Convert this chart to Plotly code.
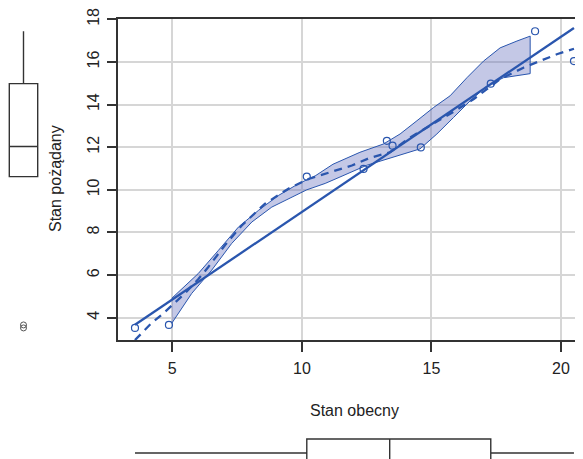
import numpy as np
import plotly.graph_objects as go

# ---- data ----
stan_obecny = [3.56, 4.87, 10.19, 12.38, 13.28, 13.50, 14.59, 17.29, 19.00, 20.50]
stan_pozadany = [3.52, 3.66, 10.62, 10.98, 12.30, 12.07, 11.99, 14.98, 17.44, 16.04]

# loess smooth (dashed)
smooth_x = [3.56, 4.2, 4.65, 5.1, 5.49, 6.0, 6.39, 7.03, 7.68, 8.58, 9.48, 10.25,
            11.15, 11.93, 12.63, 13.4, 14.18, 14.95, 15.92, 16.62, 17.65, 18.55,
            19.15, 19.84, 20.5]
smooth_y = [2.95, 3.75, 4.2, 4.7, 5.15, 5.8, 6.38, 7.40, 8.33, 9.35, 10.05, 10.51,
            10.85, 11.14, 11.5, 11.76, 12.46, 13.0, 13.71, 14.25, 15.19, 15.73,
            16.04, 16.36, 16.62]

# spread band edges
band_up_x = [4.98, 6.0, 6.78, 7.55, 8.32, 9.09, 9.86, 10.51, 11.2, 12.24, 13.15,
             13.79, 14.44, 15.08, 15.72, 16.37, 17.01, 17.65, 18.3, 18.81]
band_up_y = [4.91, 6.07, 7.16, 8.25, 9.03, 9.73, 10.28, 10.65, 11.2, 11.76, 12.15,
             12.62, 13.24, 13.86, 14.41, 15.26, 16.04, 16.66, 16.98, 17.21]
band_lo_x = [4.98, 5.75, 6.52, 7.29, 8.07, 8.84, 9.61, 10.19, 10.9, 11.47, 12.5,
             13.53, 14.56, 15.21, 15.85, 16.49, 17.14, 17.78, 18.81]
band_lo_y = [3.74, 5.14, 6.23, 7.48, 8.49, 9.19, 9.65, 10.0, 10.3, 10.6, 11.15,
             11.52, 11.92, 12.62, 13.39, 14.17, 14.87, 15.26, 15.45]

x_ticks = [5, 10, 15, 20]
y_ticks = [4, 6, 8, 10, 12, 14, 16, 18]

# ---- helpers ----
def fivenum(v):
    s = np.sort(np.asarray(v, dtype=float))
    n = len(s)
    n4 = np.floor((n + 3) / 2) / 2
    d = np.array([1, n4, (n + 1) / 2, n + 1 - n4, n]) - 1
    return 0.5 * (s[np.floor(d).astype(int)] + s[np.ceil(d).astype(int)])

def box_stats(v):
    mn, q1, med, q3, mx = fivenum(v)
    iqr = q3 - q1
    arr = np.asarray(v, dtype=float)
    inside = arr[(arr >= q1 - 1.5 * iqr) & (arr <= q3 + 1.5 * iqr)]
    out = arr[(arr < q1 - 1.5 * iqr) | (arr > q3 + 1.5 * iqr)]
    return q1, med, q3, inside.min(), inside.max(), out

BLUE = "#2A56AE"
FONT = "Liberation Sans, Arial, sans-serif"
TXT = "#222222"

slope, intercept = np.polyfit(stan_obecny, stan_pozadany, 1)
reg_x = [min(stan_obecny), max(stan_obecny)]
reg_y = [intercept + slope * v for v in reg_x]

fig = go.Figure()

fig.add_trace(go.Scatter(
    x=band_up_x + band_lo_x[::-1], y=band_up_y + band_lo_y[::-1],
    fill="toself", fillcolor="rgba(100,110,190,0.38)",
    line=dict(color=BLUE, width=1), mode="lines", hoverinfo="skip",
    showlegend=False))
fig.add_trace(go.Scatter(x=reg_x, y=reg_y, mode="lines",
                         line=dict(color=BLUE, width=2.3), showlegend=False))
fig.add_trace(go.Scatter(x=smooth_x, y=smooth_y, mode="lines",
                         line=dict(color=BLUE, width=2.3, dash="8px,6px"),
                         showlegend=False))
fig.add_trace(go.Scatter(x=stan_obecny, y=stan_pozadany, mode="markers",
                         marker=dict(symbol="circle-open", size=7, color=BLUE,
                                     line=dict(width=1.2, color=BLUE)),
                         showlegend=False))

q1, med, q3, lo, hi, out = box_stats(stan_pozadany)
fig.add_trace(go.Box(x=[0], q1=[q1], median=[med], q3=[q3], lowerfence=[lo],
                     upperfence=[hi], width=1, whiskerwidth=0,
                     fillcolor="rgba(255,255,255,0)",
                     line=dict(color="#333333", width=1.4),
                     xaxis="x2", yaxis="y2", showlegend=False, boxpoints=False))
fig.add_trace(go.Scatter(x=[0] * len(out), y=list(out), mode="markers",
                         marker=dict(symbol="circle-open", size=6, color="#555555",
                                     line=dict(width=1, color="#555555")),
                         xaxis="x2", yaxis="y2", showlegend=False))

q1, med, q3, lo, hi, out = box_stats(stan_obecny)
fig.add_trace(go.Box(y=[0], q1=[q1], median=[med], q3=[q3], lowerfence=[lo],
                     upperfence=[hi], width=1, whiskerwidth=0, orientation="h",
                     fillcolor="rgba(255,255,255,0)",
                     line=dict(color="#333333", width=1.4),
                     xaxis="x3", yaxis="y3", showlegend=False, boxpoints=False))

W, H = 583, 459
OFF = 8  # page body margin

def fx(px):
    return (px - OFF) / W

def fy(py):
    return (H + OFF - py) / H

x5_px, x20_px = 172.3, 561.0
PX_PER_X = (x20_px - x5_px) / 15
y4_py, y18_py = 317.7, 19.3
PX_PER_Y = (y4_py - y18_py) / 14
left_px, right_px = 118.3, W + OFF
xr = [5 - (x5_px - left_px) / PX_PER_X, 5 + (right_px - x5_px) / PX_PER_X]
top_py, bot_py = y18_py, 340.0
yr = [4 - (bot_py - y4_py) / PX_PER_Y, 18.0001]

xdom = [fx(left_px), 1.0]
ydom = [fy(bot_py), fy(top_py)]

axis_common = dict(showline=True, linecolor="#333333", linewidth=1.5,
                   ticks="outside", ticklen=10, tickwidth=1.5, tickcolor="#333333",
                   showgrid=True, gridcolor="#d6d6d6", gridwidth=1.5,
                   zeroline=False, automargin=False, ticklabeloverflow="allow",
                   tickfont=dict(family=FONT, size=16, color=TXT))

bb_c, bb_h = 453.0, 28.0
y3_top = 413.0
lb_c, lb_w = 23.5, 28.4
x2_right = 55.0

fig.update_layout(
    width=W, height=H, margin=dict(l=0, r=0, t=0, b=0, autoexpand=False),
    paper_bgcolor="white", plot_bgcolor="white",
    xaxis=dict(domain=xdom, range=xr, tickvals=x_ticks, mirror=True,
               anchor="y", ticklabelstandoff=3, **axis_common),
    yaxis=dict(domain=ydom, range=yr, tickvals=y_ticks, tickangle=-90,
               anchor="x", ticklabelstandoff=1, **axis_common),
    xaxis2=dict(domain=[0, fx(x2_right)],
                range=[-(lb_c - OFF) / lb_w, (x2_right - lb_c) / lb_w],
                visible=False, anchor="y2", automargin=False),
    yaxis2=dict(domain=ydom, range=yr, visible=False, anchor="x2",
                automargin=False),
    xaxis3=dict(domain=xdom, range=xr, visible=False, anchor="y3",
                automargin=False),
    yaxis3=dict(domain=[0, fy(y3_top)],
                range=[-(H + OFF - bb_c) / bb_h, (bb_c - y3_top) / bb_h],
                visible=False, anchor="x3", automargin=False),
    annotations=[
        dict(text="Stan obecny", x=fx(354.5), y=fy(410), xref="paper",
             yref="paper", showarrow=False, xanchor="center", yanchor="middle",
             font=dict(family=FONT, size=16, color=TXT)),
        dict(text="Stan pożądany", x=fx(55), y=fy(179), xref="paper",
             yref="paper", showarrow=False, xanchor="center", yanchor="middle",
             textangle=-90, font=dict(family=FONT, size=16, color=TXT)),
    ],
)

fig.write_html("out.html")
